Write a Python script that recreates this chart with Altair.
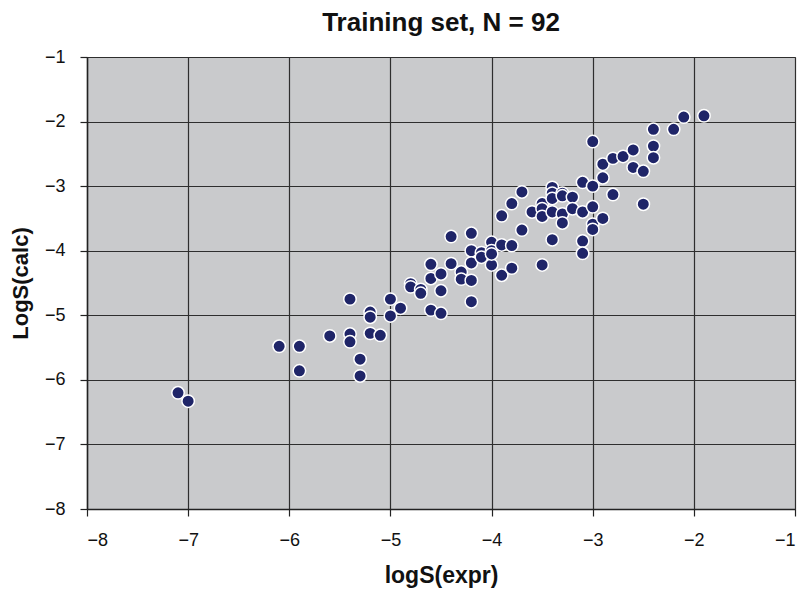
import altair as alt
import pandas as pd

# logS(expr) values and the matching LogS(calc) values
x_expr = [
    -7.1, -7.0, -6.1, -5.9, -5.9, -5.6,
    -5.4, -5.4, -5.4, -5.3, -5.3,
    -5.2, -5.2, -5.2, -5.1, -5.0, -5.0, -4.9,
    -4.8, -4.8, -4.7, -4.7,
    -4.6, -4.6, -4.6, -4.5, -4.5, -4.5,
    -4.4, -4.4, -4.3, -4.3,
    -4.2, -4.2, -4.2, -4.2, -4.2,
    -4.1, -4.1, -4.0, -4.0, -4.0,
    -3.9, -3.9, -3.9, -3.8, -3.8, -3.8,
    -3.7, -3.7, -3.6,
    -3.5, -3.5, -3.5, -3.5,
    -3.4, -3.4, -3.4, -3.4, -3.4,
    -3.3, -3.3, -3.3, -3.3, -3.2, -3.2,
    -3.1, -3.1, -3.1, -3.1,
    -3.0, -3.0, -3.0, -3.0, -3.0,
    -2.9, -2.9, -2.9, -2.8, -2.8, -2.7,
    -2.6, -2.6, -2.5, -2.5,
    -2.4, -2.4, -2.4, -2.2, -2.1, -1.9, -4.0,
]
y_calc = [
    -6.20, -6.33, -5.48, -5.48, -5.86, -5.32,
    -4.75, -5.29, -5.41, -5.68, -5.94,
    -4.95, -5.03, -5.28, -5.31, -4.75, -5.01, -4.89,
    -4.51, -4.56, -4.60, -4.66,
    -4.21, -4.43, -4.92, -4.36, -4.62, -4.97,
    -3.78, -4.20, -4.33, -4.44,
    -3.73, -4.00, -4.19, -4.46, -4.79,
    -4.03, -4.10, -3.87, -4.00, -4.22,
    -3.46, -3.91, -4.38, -3.27, -3.92, -4.27,
    -3.09, -3.68, -3.40,
    -3.27, -3.35, -3.47, -4.22,
    -3.02, -3.11, -3.19, -3.40, -3.83,
    -3.11, -3.15, -3.43, -3.57, -3.17, -3.35,
    -2.94, -3.40, -3.85, -4.04,
    -2.31, -3.00, -3.32, -3.59, -3.67,
    -2.66, -2.87, -3.50, -2.57, -3.13, -2.54,
    -2.44, -2.71, -2.77, -3.28,
    -2.12, -2.38, -2.56, -2.12, -1.93, -1.91, -4.05,
]
tick_values = [-8, -7, -6, -5, -4, -3, -2, -1]

df = pd.DataFrame({"expr": x_expr, "calc": y_calc})

FONT = "Liberation Sans"

chart = (
    alt.Chart(df)
    .mark_circle(size=155, opacity=1, color="#1F2568", stroke="white", strokeWidth=1.5)
    .encode(
        x=alt.X(
            "expr:Q",
            scale=alt.Scale(domain=[-8, -1], nice=False, zero=False),
            axis=alt.Axis(title="logS(expr)", values=tick_values, titlePadding=15,
                          titleFontSize=23),
        ),
        y=alt.Y(
            "calc:Q",
            scale=alt.Scale(domain=[-8, -1], nice=False, zero=False),
            axis=alt.Axis(title="LogS(calc)", values=tick_values, titlePadding=12,
                          titleFontSize=22),
        ),
    )
    .properties(
        width=708,
        height=452,
        title=alt.TitleParams(
            "Training set, N = 92",
            font=FONT,
            fontSize=26,
            fontWeight="bold",
            color="#111111",
            offset=12,
            anchor="middle",
        ),
        autosize=alt.AutoSizeParams(type="none"),
        padding={"left": 79, "top": 49, "right": 5, "bottom": 80},
    )
    .configure_view(fill="#C9CACC", stroke="#666666", strokeWidth=1)
    .configure_axis(
        labelFont=FONT,
        labelFontSize=18,
        labelColor="#111111",
        titleFont=FONT,
        titleFontWeight="bold",
        titleColor="#111111",
        gridColor="#2E2E2E",
        gridWidth=1.2,
        gridOpacity=1,
        domainColor="#222222",
        domainWidth=1.5,
        tickColor="#222222",
        tickSize=7,
        tickWidth=1.2,
        labelPadding=15,
    )
)

chart.save("out.html", embed_options={"renderer": "svg", "actions": False})
